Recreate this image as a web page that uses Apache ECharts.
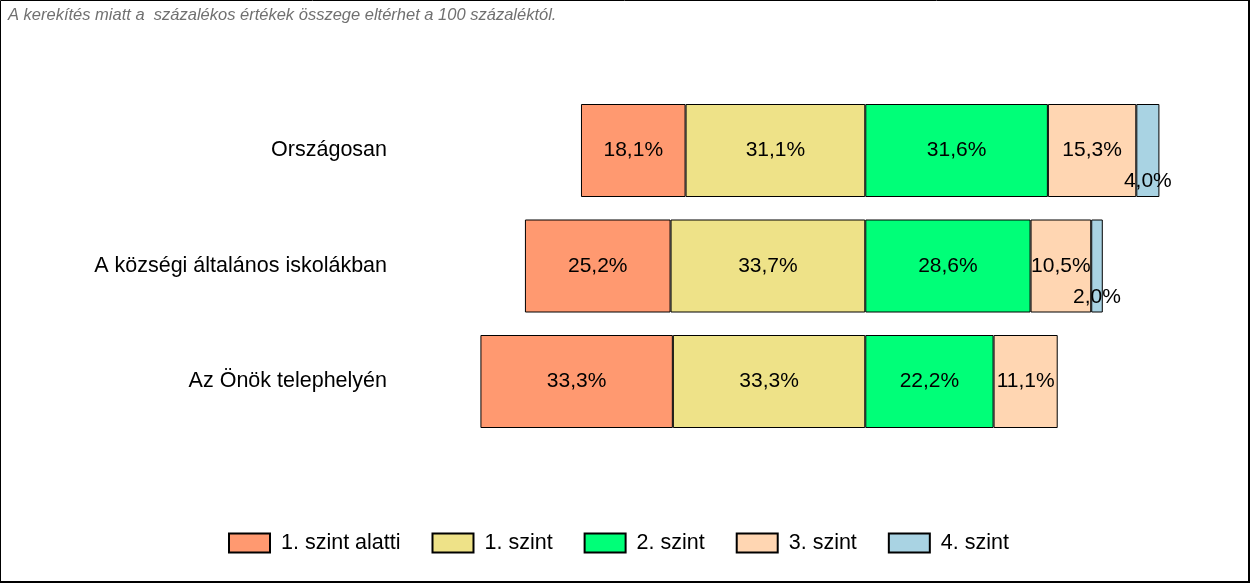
<!DOCTYPE html>
<html>
<head>
<meta charset="utf-8">
<script src="https://cdn.jsdelivr.net/npm/echarts@6/dist/echarts.min.js"></script>
<style>
html,body{margin:0;padding:0;background:#fff;}
#chart{width:1250px;height:583px;}
</style>
</head>
<body>
<div id="chart"></div>
<script>
const categories = ['Országosan', 'A községi általános iskolákban', 'Az Önök telephelyén'];
const seriesNames = ['1. szint alatti', '1. szint', '2. szint', '3. szint', '4. szint'];
const level0 = [18.1, 25.2, 33.3];   // 1. szint alatti
const level1 = [31.1, 33.7, 33.3];   // 1. szint
const level2 = [31.6, 28.6, 22.2];   // 2. szint
const level3 = [15.3, 10.5, 11.1];   // 3. szint
const level4 = [4.0, 2.0, null];     // 4. szint
const colors = ['#FF9970', '#EEE288', '#00FF78', '#FFD6B2', '#A9D3E3'];
const noteText = 'A kerekítés miatt a  százalékos értékek összege eltérhet a 100 százaléktól.';

const FONT = 'Liberation Sans, Arial, sans-serif';
const fmt = v => v == null ? '' : v.toFixed(1).replace('.', ',') + '%';

function mk(name, values, color, negative, extraLabel) {
  return {
    name: name,
    type: 'bar',
    stack: 'total',
    barWidth: 93,
    data: values.map(v => v == null ? null : (negative ? -v : v)),
    itemStyle: { color: color, borderColor: '#000', borderWidth: 1 },
    label: Object.assign({
      show: true,
      position: 'inside',
      color: '#000',
      fontSize: 21,
      fontFamily: FONT,
      formatter: p => p.value == null ? '' : fmt(Math.abs(p.value))
    }, extraLabel || {}),
    emphasis: { disabled: true }
  };
}

const chart = echarts.init(document.getElementById('chart'));
chart.setOption({
  animation: false,
  backgroundColor: '#fff',
  textStyle: { fontFamily: FONT },
  title: {
    text: noteText,
    left: 3, top: 2,
    textStyle: { fontSize: 16.5, fontStyle: 'italic', fontWeight: 'normal', color: '#707070', fontFamily: FONT }
  },
  grid: { left: 403, width: 809, top: 92.75, height: 346.5 },
  xAxis: {
    type: 'value', min: -80, max: 60,
    show: false
  },
  yAxis: {
    type: 'category', data: categories, inverse: true,
    axisLine: { show: false, onZero: false },
    axisTick: { show: false },
    splitLine: { show: false },
    axisLabel: { margin: 16, fontSize: 21.5, color: '#000', fontFamily: FONT }
  },
  legend: {
    data: seriesNames,
    left: 228, top: 532,
    padding: 0,
    itemWidth: 41, itemHeight: 19,
    itemGap: 31,
    icon: 'rect',
    textStyle: { fontSize: 21.5, color: '#000', padding: [0, 0, 0, 6], fontFamily: FONT }
  },
  series: [
    mk(seriesNames[1], level1, colors[1], true),
    mk(seriesNames[0], level0, colors[0], true),
    mk(seriesNames[2], level2, colors[2], false),
    mk(seriesNames[3], level3, colors[3], false),
    mk(seriesNames[4], level4, colors[4], false, { offset: [0, 31] })
  ],
  graphic: [
    { type: 'rect', silent: true, shape: { x: 0.5, y: 0.5, width: 1248, height: 581 }, style: { fill: null, stroke: '#000', lineWidth: 1 } },
    { type: 'rect', silent: true, shape: { x: 1248, y: 0, width: 2, height: 583 }, style: { fill: '#000' } },
    { type: 'rect', silent: true, shape: { x: 0, y: 581, width: 1250, height: 2 }, style: { fill: '#000' } }
  ]
});
</script>
</body>
</html>
